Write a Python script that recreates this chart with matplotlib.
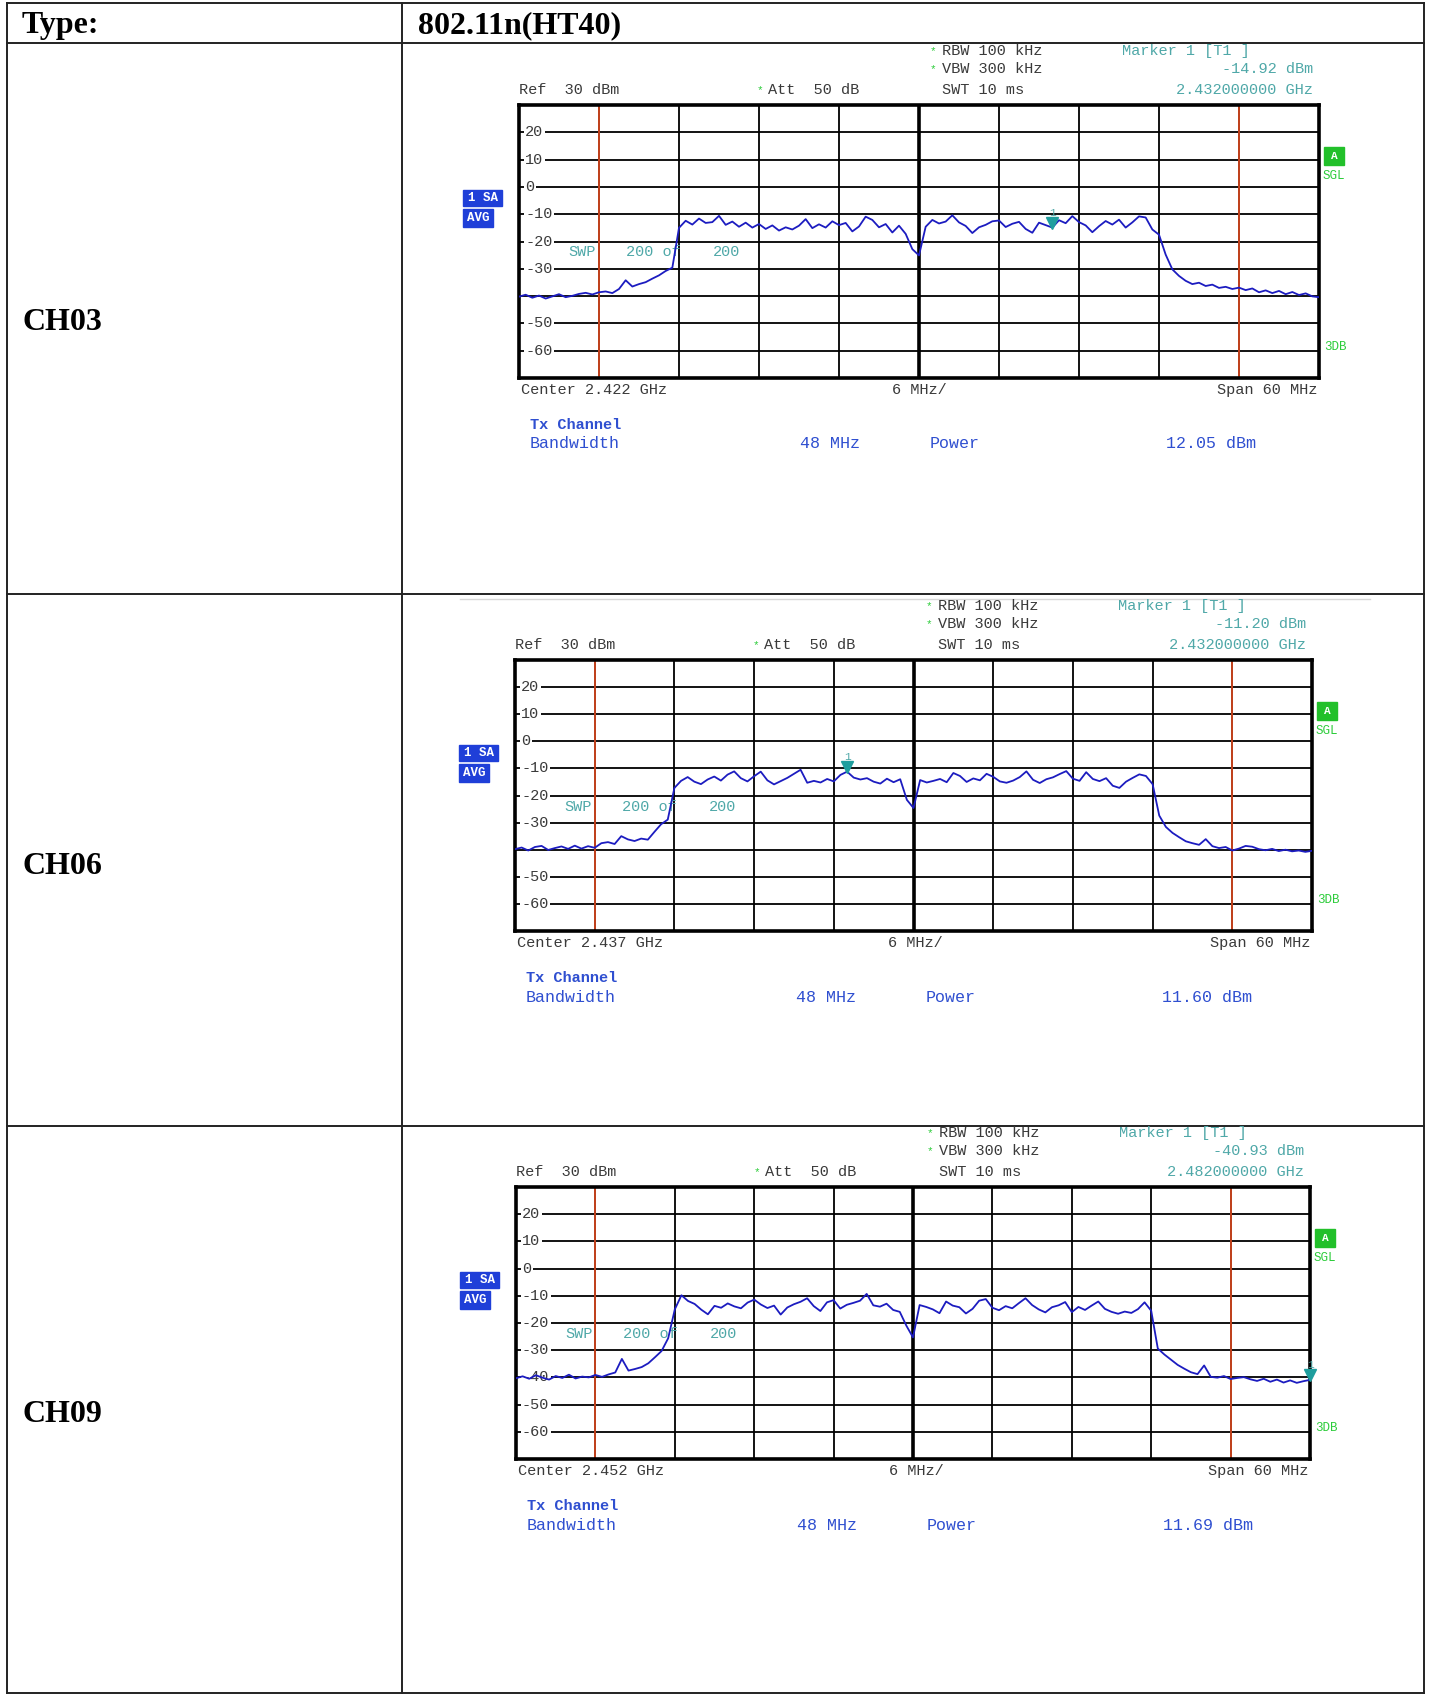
import numpy as np
import matplotlib
matplotlib.use("Agg")
import matplotlib.pyplot as plt
from matplotlib.patches import Rectangle

W, H = 1431, 1697

# table text
header = ["Type:", "802.11n(HT40)"]
channels = ["CH03", "CH06", "CH09"]

# instrument settings shown on each screen
centers = ["2.422", "2.437", "2.452"]
marker_val = ["-14.92", "-11.20", "-40.93"]
marker_freq = ["2.432000000", "2.432000000", "2.482000000"]
marker_off = [10.0, -5.0, 30.0]
powers = ["12.05", "11.60", "11.69"]

# trace: offset from centre in MHz, level in dBm
offsets = np.arange(-30, 30.01, 0.5)

ch03 = [-40.2, -39.5, -40.6, -39.8, -40.9, -40.1, -39.3, -40.4, -39.9, -39.2, -38.8, -39.4, -38.6,
        -38.3, -38.9, -37.4, -34.2, -36.5, -35.6, -34.9, -33.6, -32.4, -30.8, -29.6, -15.0,
        -12.4, -13.8, -11.6, -13.2, -12.9, -10.6, -13.9, -12.7, -14.6, -13.1, -14.9, -13.6,
        -15.4, -14.1, -16.0, -14.8, -15.6, -14.2, -11.8, -15.1, -13.7, -14.9, -12.6, -14.0,
        -13.2, -16.3, -14.5, -10.9, -12.1, -14.8, -13.6, -16.7, -14.2, -17.2, -22.8, -25.1,
        -14.6, -12.1, -13.4, -12.7, -10.4, -13.0, -14.3, -16.9, -14.8, -13.9, -12.6, -12.3,
        -14.7, -13.5, -12.8, -15.4, -16.8, -13.1, -14.0, -14.9, -12.2, -13.3, -10.7, -12.9,
        -14.1, -16.6, -14.4, -12.5, -13.8, -12.0, -14.9, -13.0, -10.8, -11.2, -15.6, -17.5,
        -24.8, -30.2, -32.6, -34.4, -35.6, -35.1, -36.3, -35.8, -37.0, -36.6, -37.4, -36.9,
        -37.8, -37.2, -38.6, -37.9, -38.9, -38.1, -39.3, -38.5, -39.6, -39.0, -40.1, -40.4]

ch06 = [-39.8, -39.2, -40.3, -39.0, -38.6, -40.1, -39.4, -38.8, -39.7, -38.5, -39.6, -38.7, -39.3,
        -37.6, -37.2, -37.9, -35.0, -36.2, -36.8, -35.9, -36.3, -33.4, -30.6, -28.9, -17.2,
        -14.6, -13.2, -14.9, -15.8, -14.1, -13.0, -14.5, -12.3, -11.1, -13.6, -14.8, -12.9,
        -11.2, -14.4, -15.9, -14.7, -13.5, -12.0, -10.5, -15.3, -14.6, -15.2, -13.9, -14.8,
        -12.4, -11.2, -13.4, -14.1, -13.6, -14.9, -15.6, -13.8, -15.1, -14.0, -21.6, -24.6,
        -14.3, -15.2, -14.6, -13.9, -15.1, -11.7, -12.8, -15.0, -13.7, -14.4, -12.0, -13.1,
        -14.8, -15.3, -14.5, -13.2, -11.1, -14.2, -15.4, -14.0, -13.3, -12.1, -11.0, -13.8,
        -14.6, -11.4, -13.9, -14.7, -13.6, -16.4, -17.2, -14.9, -13.5, -12.2, -12.8, -15.8,
        -27.4, -31.6, -33.8, -35.4, -36.9, -37.6, -38.2, -36.1, -38.7, -39.4, -39.0, -40.3,
        -39.6, -38.6, -38.9, -39.8, -40.2, -39.7, -40.5, -40.0, -40.6, -40.3, -40.8, -40.4]

ch09 = [-40.3, -39.6, -40.5, -39.2, -40.1, -40.8, -39.5, -40.2, -39.0, -40.4, -39.7, -40.0, -39.1,
        -39.8, -38.9, -38.2, -33.2, -37.5, -36.9, -36.2, -34.8, -32.6, -30.3, -25.6, -15.0,
        -9.8, -11.9, -13.0, -15.1, -16.8, -13.7, -14.4, -12.8, -13.9, -14.6, -12.5, -11.4,
        -13.2, -14.5, -13.6, -16.9, -14.3, -13.1, -12.2, -10.9, -13.8, -15.6, -12.4, -11.6,
        -14.7, -13.3, -12.6, -11.8, -9.3, -13.5, -14.0, -12.9, -15.2, -15.9, -21.0, -25.3,
        -13.4, -14.1, -15.0, -16.4, -12.1, -13.6, -14.2, -16.5, -14.8, -11.8, -11.2, -14.4,
        -15.3, -13.8, -14.6, -12.7, -10.9, -13.4, -15.0, -16.1, -14.2, -13.5, -12.3, -16.0,
        -14.1, -15.2, -13.6, -12.1, -14.8, -15.9, -16.6, -15.8, -16.3, -14.9, -12.4, -15.5,
        -29.4, -31.6, -33.5, -35.4, -36.8, -38.1, -38.8, -35.6, -39.8, -40.1, -39.5, -40.6,
        -40.2, -39.9, -40.7, -41.3, -40.5, -41.6, -40.8, -41.9, -41.1, -42.0, -41.4, -40.9]

traces = [ch03, ch06, ch09]

# frame of each screen in pixels: left, top, right, bottom
frames = [(519, 105, 1319, 378), (515, 660, 1312, 931), (516, 1187, 1310, 1459)]
row_lines = [3, 43, 594, 1126, 1693]
ch_y = [323, 866, 1415]

level_labels = [20, 10, 0, -10, -20, -30, -40, -50, -60]

mono = "Liberation Mono"
serif = "Liberation Serif"
dark = "#3a3a3a"
teal = "#4fa8a8"
green = "#2ccc3a"
blue_box = "#1f3fd8"
blue_txt = "#2f4fd0"
trace_col = "#1c1cc0"
red = "#d2461e"

fig = plt.figure(figsize=(W / 100, H / 100), dpi=100)
ov = fig.add_axes([0, 0, 1, 1])
ov.set_xlim(0, W)
ov.set_ylim(H, 0)
ov.axis("off")

# table grid
for y in row_lines:
    ov.plot([7, 1424], [y, y], color="#222222", lw=1.4)
ov.plot([7, 7], [3, 1693], color="#222222", lw=1.4)
ov.plot([1424, 1424], [3, 1693], color="#222222", lw=1.4)
ov.plot([402, 402], [3, 1693], color="#222222", lw=1.4)
ov.plot([460, 1370], [599, 599], color="#d8d8d8", lw=1)

ov.text(22, 26, header[0], fontsize=23, fontweight="bold", family=serif, va="center")
ov.text(418, 26, header[1], fontsize=23, fontweight="bold", family=serif, va="center")
for name, y in zip(channels, ch_y):
    ov.text(22, y, name, fontsize=23, fontweight="bold", family=serif, va="center")

for k, (L, T, R, B) in enumerate(frames):
    tk = dict(family=mono, fontsize=11, va="center")
    # header lines above the screen
    ov.text(L, T - 15, "Ref  30 dBm", color=dark, **tk)
    ov.text(L + 238, T - 15, "*", color=green, fontsize=8, family=mono, va="center")
    ov.text(L + 249, T - 15, "Att  50 dB", color=dark, **tk)
    ov.text(L + 411, T - 54, "*", color=green, fontsize=8, family=mono, va="center")
    ov.text(L + 411, T - 36, "*", color=green, fontsize=8, family=mono, va="center")
    ov.text(L + 423, T - 54, "RBW 100 kHz", color=dark, **tk)
    ov.text(L + 423, T - 36, "VBW 300 kHz", color=dark, **tk)
    ov.text(L + 423, T - 15, "SWT 10 ms", color=dark, **tk)
    ov.text(L + 603, T - 54, "Marker 1 [T1 ]", color=teal, **tk)
    ov.text(R - 6, T - 36, marker_val[k] + " dBm", color=teal, ha="right", **tk)
    ov.text(R - 6, T - 15, marker_freq[k] + " GHz", color=teal, ha="right", **tk)

    # side boxes
    ov.add_patch(Rectangle((R + 5, T + 42), 20, 18, color="#22c02a"))
    ov.text(R + 15, T + 51, "A", color="white", fontsize=8, family=mono,
            fontweight="bold", ha="center", va="center")
    ov.text(R + 4, T + 71, "SGL", color=green, fontsize=9, family=mono, va="center")
    ov.text(R + 5, B - 31, "3DB", color=green, fontsize=9, family=mono, va="center")
    ov.add_patch(Rectangle((L - 56, T + 85), 39, 16, color=blue_box))
    ov.text(L - 36, T + 93, "1 SA", color="white", fontsize=9, family=mono,
            fontweight="bold", ha="center", va="center")
    ov.add_patch(Rectangle((L - 56, T + 104), 30, 18, color=blue_box))
    ov.text(L - 41, T + 113, "AVG", color="white", fontsize=9, family=mono,
            fontweight="bold", ha="center", va="center")

    # bottom lines
    ov.text(L + 2, B + 12, "Center " + centers[k] + " GHz", color=dark, **tk)
    ov.text(L + 400, B + 12, "6 MHz/", color=dark, ha="center", **tk)
    ov.text(R - 2, B + 12, "Span 60 MHz", color=dark, ha="right", **tk)
    ov.text(L + 11, B + 47, "Tx Channel", color=blue_txt, family=mono, fontsize=11,
            fontweight="bold", va="center")
    ov.text(L + 11, B + 66, "Bandwidth", color=blue_txt, family=mono, fontsize=12, va="center")
    ov.text(L + 281, B + 66, "48 MHz", color=blue_txt, family=mono, fontsize=12, va="center")
    ov.text(L + 411, B + 66, "Power", color=blue_txt, family=mono, fontsize=12, va="center")
    ov.text(L + 647, B + 66, powers[k] + " dBm", color=blue_txt, family=mono, fontsize=12,
            va="center")

    # the screen itself
    ax = fig.add_axes([L / W, 1 - B / H, (R - L) / W, (B - T) / H])
    ax.set_xlim(-30, 30)
    ax.set_ylim(-70, 30)
    ax.set_xticks([])
    ax.set_yticks([])
    for s in ax.spines.values():
        s.set_linewidth(2.6)
        s.set_color("black")
    for x in range(-24, 25, 6):
        ax.axvline(x, color="black", lw=2.6 if x == 0 else 1.3, zorder=1)
    for y in range(-60, 30, 10):
        ax.axhline(y, color="black", lw=1.3, zorder=1)
    ax.axvline(-24, color=red, lw=1.3, zorder=2.5)
    ax.axvline(24, color=red, lw=1.3, zorder=2.5)

    xoff = -30 + 60 * 6 / (R - L)
    for v in level_labels:
        if v == -40 and k < 2:
            continue
        ax.text(xoff, v, str(v), family=mono, fontsize=11, color=dark, va="center",
                zorder=2, bbox=dict(facecolor="white", edgecolor="none", pad=1))

    px = 60 / (R - L)
    swp_y = 30 - 147 / (B - T) * 100
    ax.text(-30 + 49 * px, swp_y, "SWP", family=mono, fontsize=11, color=teal, va="center", zorder=2)
    ax.text(-30 + 107 * px, swp_y, "200 of", family=mono, fontsize=11, color=teal, va="center", zorder=2)
    ax.text(-30 + 194 * px, swp_y, "200", family=mono, fontsize=11, color=teal, va="center", zorder=2)

    ax.plot(offsets, traces[k], color=trace_col, lw=1.3, zorder=3)

    mi = int(round((marker_off[k] + 30) / 0.5))
    mv = traces[k][mi]
    ax.plot(marker_off[k], mv + 1.6, marker="v", color="#1f9e9e", ms=8, zorder=4, clip_on=False)
    ax.text(marker_off[k], mv + 5.5, "1", family=mono, fontsize=8, color=teal,
            ha="center", va="center", zorder=4)

fig.savefig("out.png", dpi=100)
